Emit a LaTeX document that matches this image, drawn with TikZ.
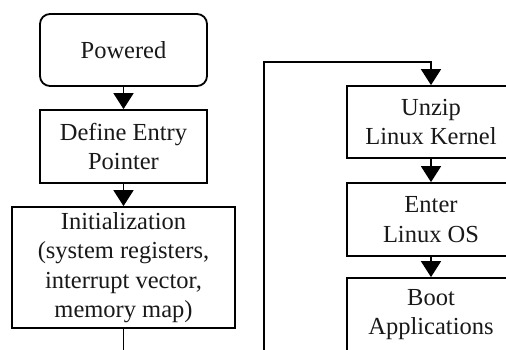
\documentclass[tikz,border=0pt]{standalone}
\usepackage{fontspec}
\setmainfont{Liberation Serif}
\usetikzlibrary{arrows.meta}
\begin{document}
\begin{tikzpicture}[x=1pt,y=-1pt,
  box/.style={draw, line width=1.8pt, align=center, inner sep=0pt, text=black!90,
    font=\fontsize{24.5pt}{29.5pt}\selectfont},
  conn/.style={line width=1.8pt, -{Triangle[width=20pt,length=16pt]}},
  wire/.style={line width=1.8pt}]
\useasboundingbox (0,0) rectangle (506,349);
\clip (0,0) rectangle (506,349);
\fill[white] (0,0) rectangle (506,349);
\node[box, rounded corners=10pt, minimum width=167pt, minimum height=72pt] (pow) at (123.5,50) {Powered};
\node[box, minimum width=167pt, minimum height=73pt] (def) at (123.5,146.5) {Define Entry\\Pointer};
\node[box, minimum width=223pt, minimum height=121pt] (init) at (123.5,267.5) {Initialization\\(system registers,\\interrupt vector,\\memory map)};
\node[box, minimum width=168pt, minimum height=72pt] (unzip) at (431,122) {Unzip\\Linux Kernel};
\node[box, minimum width=168pt, minimum height=73pt] (enter) at (431,219.5) {Enter\\Linux OS};
\node[box, minimum width=168pt, minimum height=73pt] (boot) at (431,314.5) {Boot\\Applications};
\coordinate (initout) at (123.5,352);
\coordinate (loopbot) at (264,352);
\coordinate (looptop) at (264,62);
\draw[conn] (pow) -- (def);
\draw[conn] (def) -- (init);
\draw[wire] (init.south) -- (initout);
\draw[conn] (loopbot) -- (looptop) -| (unzip.north);
\draw[conn] (unzip) -- (enter);
\draw[conn] (enter) -- (boot);
\end{tikzpicture}
\end{document}
